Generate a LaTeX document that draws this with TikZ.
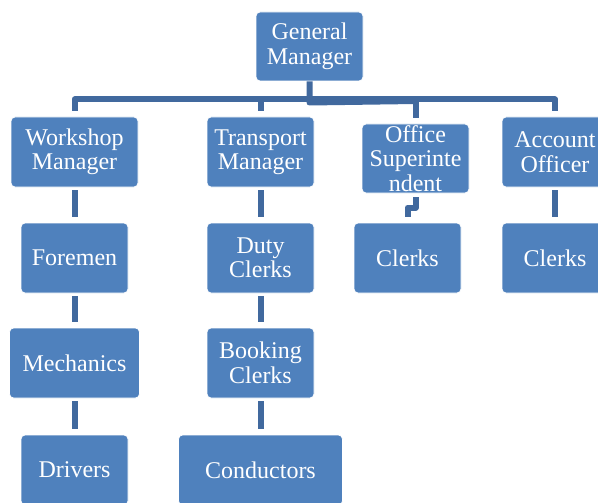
\documentclass[tikz,border=0pt]{standalone}
\usepackage{fontspec}
\setmainfont{Liberation Serif}
\definecolor{boxblue}{HTML}{4F81BD}
\definecolor{linkblue}{HTML}{41699E}
\begin{document}
\begin{tikzpicture}[x=1pt,y=-1pt,
  unit/.style={fill=boxblue, draw=white, line width=0.8pt, rounded corners=4pt,
    text=white, align=center, inner sep=0pt,
    font=\fontsize{24}{24.5}\selectfont},
  link/.style={draw=linkblue, line width=6pt, line join=round},
  down/.style={link, shorten <=3pt, shorten >=6pt}]
\useasboundingbox (0,0) rectangle (598,503);
\clip (0,0) rectangle (598,503);

% top level
\node[unit, minimum width=107, minimum height=69] (gm) at (309.5,46.5) {General\\Manager};

% second level
\node[unit, minimum width=127, minimum height=70] (wm) at (74.5,152) {Workshop\\Manager};
\node[unit, minimum width=107, minimum height=70] (tm) at (260.5,152) {Transport\\Manager};
\node[unit, minimum width=107, minimum height=69] (os) at (415.5,158.5) {Office\\Superinte\\ndent};
\node[unit, minimum width=106, minimum height=70] (ao) at (555,152) {Account\\Officer};

% third level
\node[unit, minimum width=107, minimum height=70] (fm) at (74.5,258) {Foremen};
\node[unit, minimum width=107, minimum height=70] (dc) at (260.5,258) {Duty\\Clerks};
\node[unit, minimum width=107, minimum height=70] (cl1) at (407.5,258) {Clerks};
\node[unit, minimum width=106, minimum height=70] (cl2) at (555,258) {Clerks};

% fourth level
\node[unit, minimum width=130, minimum height=70] (mc) at (74.5,363) {Mechanics};
\node[unit, minimum width=107, minimum height=70] (bc) at (260.5,363) {Booking\\Clerks};

% fifth level
\node[unit, minimum width=107, minimum height=70] (dr) at (74.5,470) {Drivers};
\node[unit, minimum width=164, minimum height=70] (cd) at (260.5,470) {Conductors};

% bus rows
\coordinate (bus) at (0,99.5);
\coordinate (busr) at (0,101);
\coordinate (osj) at (0,207.5);

% general manager to the second level
\draw[link] (gm.south) -- ([yshift=-1.5pt]gm.south |- busr) -- (os.north |- busr);
\draw[link] ([yshift=6pt]wm.north) -- (wm.north |- bus) -- (ao.north |- bus) -- ([yshift=6pt]ao.north);
\draw[link] (tm.north |- bus) -- ([yshift=6pt]tm.north);
\draw[link] (os.north |- bus) -- ([yshift=6pt]os.north);

% columns
\draw[down] (wm.south) -- (wm.south |- fm.north);
\draw[down] (fm.south) -- (fm.south |- mc.north);
\draw[down] (mc.south) -- (mc.south |- dr.north);
\draw[down] (tm.south) -- (tm.south |- dc.north);
\draw[down] (dc.south) -- (dc.south |- bc.north);
\draw[down] (bc.south) -- (bc.south |- cd.north);
\draw[down] (ao.south) -- (ao.south |- cl2.north);
\draw[link] ([yshift=-4pt]os.south) -- (os.south |- osj) -- (cl1.north |- osj) -- ([yshift=6pt]cl1.north);
\end{tikzpicture}
\end{document}
